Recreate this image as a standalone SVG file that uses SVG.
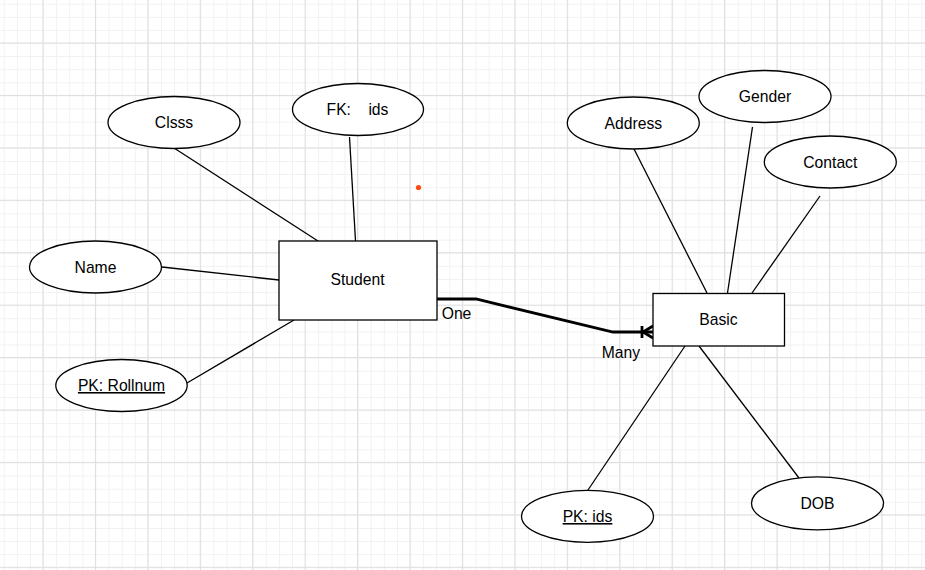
<svg xmlns="http://www.w3.org/2000/svg" width="925" height="570" viewBox="0 0 925 570">
<defs>
<pattern id="minor" patternUnits="userSpaceOnUse" x="3.7" y="3.7" width="13.108" height="13.108">
<rect x="0" y="0" width="1" height="13.108" fill="#f1f1f1"/>
<rect x="0" y="0" width="13.108" height="1" fill="#f1f1f1"/>
</pattern>
<pattern id="major" patternUnits="userSpaceOnUse" x="42.5" y="42.5" width="52.43" height="52.43">
<rect x="0" y="0" width="1" height="52.43" fill="#dedede"/>
<rect x="0" y="0" width="52.43" height="1" fill="#dedede"/>
</pattern>
<style>
.attr{fill:#fff;stroke:#000;stroke-width:1.3}
.ent{fill:#fff;stroke:#000;stroke-width:1.3}
.lbl{font-family:"Liberation Sans",Arial,sans-serif;font-size:15.7px;fill:#000;text-anchor:middle}
.u{text-decoration:underline}
.edge{stroke:#000;stroke-width:1.3;fill:none}
.rel{stroke:#000;stroke-width:2.8;fill:none}
</style>
</defs>
<rect width="925" height="570" fill="#fff"/>
<rect width="925" height="570" fill="url(#minor)"/>
<rect width="925" height="570" fill="url(#major)"/>
<circle cx="418.5" cy="187.5" r="2.6" fill="#ff4a12"/>
<g id="connectors">
<line class="edge" x1="174" y1="148" x2="318" y2="241"/>
<line class="edge" x1="349.5" y1="137" x2="355.5" y2="241"/>
<line class="edge" x1="162" y1="267" x2="279" y2="280"/>
<line class="edge" x1="187" y1="383" x2="294" y2="320"/>
<line class="edge" x1="634" y1="149" x2="707" y2="293"/>
<line class="edge" x1="752.5" y1="127" x2="727.5" y2="293"/>
<line class="edge" x1="820" y1="196" x2="752" y2="293"/>
<line class="edge" x1="588" y1="490" x2="685" y2="346"/>
<line class="edge" x1="799" y1="478" x2="699" y2="346"/>
<polyline class="rel" points="437,299 476,299 613,332 653,332"/>
<line class="rel" x1="642" y1="326" x2="642" y2="338"/>
<polyline class="rel" points="653,326 643,332 653,338"/>
<text class="lbl" x="441.7" y="318.5" style="text-anchor:start">One</text>
<text class="lbl" x="601.7" y="358.3" style="text-anchor:start">Many</text>
</g>
<g id="student">
<rect class="ent" x="279" y="241" width="158" height="79"/>
<text class="lbl" x="357.5" y="285">Student</text>
</g>
<g id="basic">
<rect class="ent" x="653" y="293.5" width="131.5" height="52.5"/>
<text class="lbl" x="718.5" y="325">Basic</text>
</g>
<g id="clsss">
<ellipse class="attr" cx="174" cy="122.5" rx="66" ry="26"/>
<text class="lbl" x="174" y="128">Clsss</text>
</g>
<g id="fk-ids">
<ellipse class="attr" cx="358" cy="109.5" rx="65.5" ry="26"/>
<text class="lbl" x="357.5" y="115" xml:space="preserve" style="white-space:pre">FK:    ids</text>
</g>
<g id="name">
<ellipse class="attr" cx="95.5" cy="267" rx="66" ry="26"/>
<text class="lbl" x="95.5" y="273">Name</text>
</g>
<g id="pk-rollnum">
<ellipse class="attr" cx="121.5" cy="385.5" rx="65.7" ry="26"/>
<text class="lbl u" x="121.5" y="391">PK: Rollnum</text>
</g>
<g id="address">
<ellipse class="attr" cx="633.3" cy="123" rx="66" ry="26"/>
<text class="lbl" x="633.3" y="128.5">Address</text>
</g>
<g id="gender">
<ellipse class="attr" cx="765" cy="96.5" rx="66" ry="26"/>
<text class="lbl" x="765" y="102">Gender</text>
</g>
<g id="contact">
<ellipse class="attr" cx="830.3" cy="162" rx="66" ry="26"/>
<text class="lbl" x="830.3" y="167.5">Contact</text>
</g>
<g id="pk-ids">
<ellipse class="attr" cx="587.5" cy="516.3" rx="66" ry="26"/>
<text class="lbl u" x="587.5" y="522">PK: ids</text>
</g>
<g id="dob">
<ellipse class="attr" cx="817.5" cy="503.3" rx="66" ry="26.5"/>
<text class="lbl" x="817.5" y="509">DOB</text>
</g>
</svg>
